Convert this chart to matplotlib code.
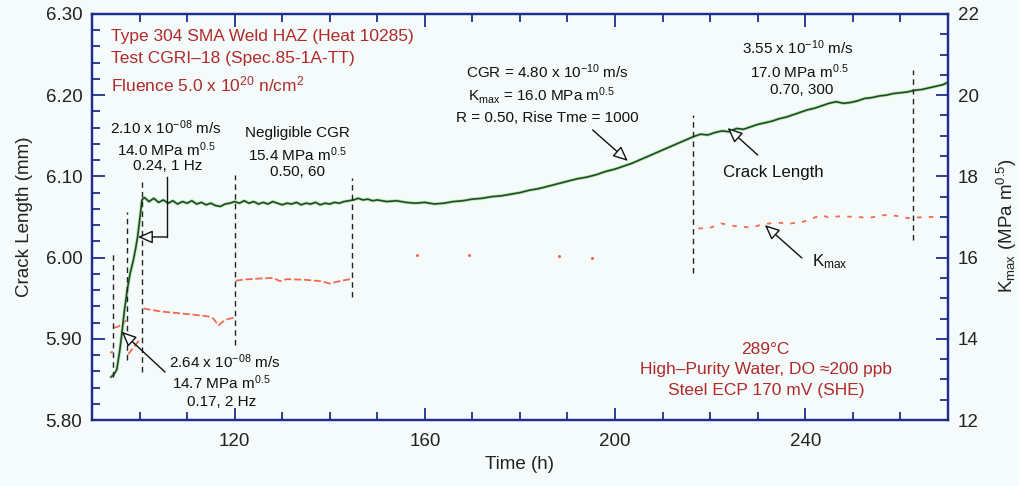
import numpy as np
import matplotlib
matplotlib.use("Agg")
import matplotlib.pyplot as plt

plt.rcParams['font.family'] = ['Liberation Sans', 'DejaVu Sans']
plt.rcParams['mathtext.fontset'] = 'custom'
plt.rcParams['mathtext.rm'] = 'Liberation Sans'
plt.rcParams['mathtext.it'] = 'Liberation Sans:italic'

# crack length (mm) vs time (h), in pieces
rise_time = [94.0, 94.6, 95.2, 95.8, 96.2, 96.8, 97.4, 98.0, 98.7, 99.2, 99.6, 100.1, 100.5]
rise_mm = [5.853, 5.856, 5.862, 5.884, 5.903, 5.934, 5.960, 5.980, 5.997, 6.012, 6.026, 6.050, 6.071]

flat_time = [101, 102, 103, 104, 105, 106, 107, 108, 109, 110,
             111, 112, 113, 114, 115, 116, 117, 118, 119, 120,
             121, 122, 123, 124, 125, 126, 127, 128, 129, 130,
             131, 132, 133, 134, 135, 136, 137, 138, 139, 140,
             141, 142, 143, 144, 145, 146, 147, 148, 149, 150]
flat_mm = [6.074, 6.069, 6.073, 6.068, 6.071, 6.067, 6.070, 6.066, 6.069, 6.067,
           6.070, 6.066, 6.068, 6.065, 6.067, 6.064, 6.063, 6.066, 6.067, 6.069,
           6.067, 6.070, 6.067, 6.069, 6.066, 6.068, 6.066, 6.069, 6.067, 6.065,
           6.067, 6.066, 6.068, 6.065, 6.067, 6.066, 6.068, 6.065, 6.067, 6.066,
           6.068, 6.067, 6.069, 6.070, 6.071, 6.073, 6.071, 6.072, 6.070, 6.071]

drift_time = [152, 154, 156, 158, 160, 162, 164, 166, 168, 170,
              172, 174, 176, 178, 180, 182, 184, 186, 188, 190,
              192, 194, 196, 198, 200, 202, 203.5]
drift_mm = [6.069, 6.070, 6.068, 6.067, 6.068, 6.066, 6.067, 6.069, 6.070, 6.072,
            6.073, 6.075, 6.076, 6.078, 6.080, 6.083, 6.085, 6.088, 6.091, 6.094,
            6.097, 6.099, 6.102, 6.106, 6.109, 6.113, 6.116]

late_time = [216.5, 218, 219.5, 221, 222.5, 224, 225.5, 227, 228.5, 230,
             231.5, 233, 234.5, 236, 237.5, 239, 240.5, 242, 243.5, 245,
             246.5, 248, 249.5, 251, 252.5, 254, 255.5, 257, 258.5, 260,
             261.5, 263, 264.5, 266, 267.5, 269, 270]
late_mm = [6.149, 6.152, 6.151, 6.154, 6.156, 6.155, 6.159, 6.158, 6.161, 6.164,
           6.166, 6.168, 6.171, 6.173, 6.176, 6.179, 6.182, 6.184, 6.187, 6.190,
           6.192, 6.190, 6.191, 6.193, 6.196, 6.197, 6.199, 6.200, 6.202, 6.203,
           6.204, 6.206, 6.207, 6.209, 6.211, 6.213, 6.216]

# Kmax (MPa m^0.5) - early segments, NaN separates loading steps
kmax_early_time = [93.8, 94.4, np.nan,
                   94.5, 95.5, 96.5, 97.2, np.nan,
                   97.6, 98.5, 99.5, 100.2, np.nan,
                   100.8, 102.0, 104.7, 108.2, 111.7, 114.5, 115.5, 116.6, 117.5, 118.4, 119.8, np.nan,
                   120.2, 122.0, 124.7, 128.1, 129.5, 131.0, 135.2, 138.0, 140.1, 142.0, 144.3]
kmax_early = [13.66, 13.68, np.nan,
              14.27, 14.30, 14.38, 14.45, np.nan,
              13.62, 13.75, 13.90, 14.00, np.nan,
              14.75, 14.72, 14.67, 14.63, 14.59, 14.55, 14.50, 14.33, 14.42, 14.48, 14.52, np.nan,
              15.43, 15.46, 15.48, 15.50, 15.42, 15.47, 15.45, 15.42, 15.36, 15.42, 15.47]
kmax_dots_time = [158.4, 169.3, 188.2, 195.2]
kmax_dots = [16.06, 16.06, 16.03, 15.98]
kmax_late_time = [217.5, 219.7, 222.3, 225.0, 228.5, 231.5, 234.2, 237.0, 239.8, 243.4,
                  244.8, 247.5, 250.8, 253.5, 256.8, 259.0, 261.7, 265.0, 268.0]
kmax_late = [16.72, 16.72, 16.84, 16.78, 16.74, 16.83, 16.86, 16.84, 16.89, 17.05,
             16.99, 17.02, 17.00, 16.98, 17.05, 17.03, 16.97, 17.00, 17.00]

# vertical dashed markers where the loading changed: time, bottom, top (mm)
change_time = [94.5, 97.4, 100.5, 120.1, 144.7, 216.4, 262.7]
change_lo = [5.853, 5.874, 5.859, 5.892, 5.952, 5.981, 6.022]
change_hi = [6.006, 6.056, 6.093, 6.102, 6.098, 6.176, 6.231]

crack_time = rise_time + flat_time + drift_time + late_time
crack_mm = rise_mm + flat_mm + drift_mm + late_mm

bg = '#f5fbfb'
spine_col = '#1f2d8c'
red_txt = '#b02a2a'

fig = plt.figure(figsize=(10.19, 4.86), dpi=100, facecolor=bg)
ax = fig.add_axes([0.0903, 0.1358, 0.8399, 0.8354])
ax2 = ax.twinx()
ax.set_zorder(ax2.get_zorder() + 1)
ax.patch.set_visible(False)
ax2.set_facecolor(bg)

ax2.plot(kmax_early_time, kmax_early, color='#f26a50', lw=1.3, ls=(0, (4, 1.5)))
ax2.plot(kmax_dots_time, kmax_dots, ls='none', marker='o', ms=2.2, color='#f26a50', mec='none')
ax2.plot(kmax_late_time, kmax_late, color='#f26a50', lw=1.3, ls=(0, (2.5, 4)))

ax.plot(crack_time, crack_mm, color='#8fd07a', lw=2.4, alpha=0.55, solid_capstyle='round')
ax.plot(crack_time, crack_mm, color='#1b4d22', lw=1.2)

ax.vlines(change_time, change_lo, change_hi, colors='#222222', lw=1.0, linestyles=(0, (4, 3)))

ax.set_xlim(90, 270)
ax.set_ylim(5.80, 6.30)
ax2.set_ylim(12, 22)
ax.set_xticks(np.arange(120, 271, 40))
ax.set_xticks(np.arange(90, 271, 10), minor=True)
ax.set_yticks(np.arange(5.80, 6.301, 0.10))
ax.set_yticks(np.arange(5.80, 6.301, 0.02), minor=True)
ax.yaxis.set_major_formatter(matplotlib.ticker.FormatStrFormatter('%.2f'))
ax2.set_yticks(np.arange(12, 23, 2))
ax2.set_yticks(np.arange(12, 22.01, 0.5), minor=True)

for a in (ax, ax2):
    for s in a.spines.values():
        s.set_color(spine_col)
        s.set_linewidth(1.6)
ax.tick_params(which='both', direction='in', color=spine_col, width=1.3, labelsize=13.5,
               labelcolor='#222222', top=True, right=False)
ax.tick_params(which='major', length=9)
ax.tick_params(which='minor', length=5.5)
ax.tick_params(axis='x', pad=9)
ax.tick_params(axis='y', pad=7)
ax2.tick_params(which='both', direction='in', color=spine_col, width=1.3, labelsize=13.5,
                labelcolor='#222222', pad=7)
ax2.tick_params(which='major', length=9)
ax2.tick_params(which='minor', length=5.5)

ax.set_xlabel('Time (h)', fontsize=13.5, color='#222222', labelpad=5)
ax.set_ylabel('Crack Length (mm)', fontsize=13.5, color='#222222', labelpad=9)
ax2.set_ylabel(r'K$_{\mathrm{max}}$ (MPa m$^{0.5}$)', fontsize=13.5, color='#222222')
ax2.yaxis.set_label_coords(1.055, 0.48)

# red title block
ax.text(94.0, 6.2717, 'Type 304 SMA Weld HAZ (Heat 10285)', color=red_txt, fontsize=12.5, va='center')
ax.text(94.0, 6.2458, 'Test CGRI–18 (Spec.85-1A-TT)', color=red_txt, fontsize=12.5, va='center')
ax.text(94.0, 6.2138, r'Fluence 5.0 x 10$^{20}$ n/cm$^{2}$', color=red_txt, fontsize=12.5, va='center')

ax.text(231.7, 5.8874, '289°C', color=red_txt, fontsize=12.5, ha='center', va='center')
ax.text(231.7, 5.8616, 'High–Purity Water, DO ≈200 ppb', color=red_txt, fontsize=12.5, ha='center', va='center')
ax.text(231.7, 5.8369, 'Steel ECP 170 mV (SHE)', color=red_txt, fontsize=12.5, ha='center', va='center')

blk = dict(color='#111111', fontsize=11, ha='center', va='center')
ax.text(105.5, 6.1596, r'2.10 x 10$^{-08}$ m/s', **blk)
ax.text(105.6, 6.1325, r'14.0 MPa m$^{0.5}$', **blk)
ax.text(105.9, 6.1128, '0.24, 1 Hz', **blk)

ax.text(133.1, 6.1535, 'Negligible CGR', **blk)
ax.text(133.1, 6.1264, r'15.4 MPa m$^{0.5}$', **blk)
ax.text(133.3, 6.1054, '0.50, 60', **blk)

ax.text(118.0, 5.8714, r'2.64 x 10$^{-08}$ m/s', **blk)
ax.text(117.3, 5.8456, r'14.7 MPa m$^{0.5}$', **blk)
ax.text(117.3, 5.8222, '0.17, 2 Hz', **blk)

ax.text(185.7, 6.2286, r'CGR = 4.80 x 10$^{-10}$ m/s', **blk)
ax.text(184.6, 6.2002, r'K$_{\mathrm{max}}$ = 16.0 MPa m$^{0.5}$', **blk)
ax.text(185.7, 6.1719, 'R = 0.50, Rise Tme = 1000', **blk)

ax.text(238.4, 6.2581, r'3.55 x 10$^{-10}$ m/s', **blk)
ax.text(238.8, 6.2286, r'17.0 MPa m$^{0.5}$', **blk)
ax.text(239.2, 6.2064, '0.70, 300', **blk)

ax.text(233.2, 6.1042, 'Crack Length', color='#111111', fontsize=12.2, ha='center', va='center')
ax.text(245.2, 5.9946, r'K$_{\mathrm{max}}$', color='#111111', fontsize=12.2, ha='center', va='center')

arrow = dict(arrowstyle='-|>,head_length=0.9,head_width=0.4', fc=bg, ec='#111111',
             lw=1.0, shrinkA=0, shrinkB=0)
ax.annotate('', xy=(223.7, 6.1596), xytext=(230.0, 6.1264), arrowprops=arrow)
ax.annotate('', xy=(231.5, 6.0401), xytext=(239.3, 5.9995), arrowprops=arrow)
ax.annotate('', xy=(202.7, 6.1190), xytext=(195.3, 6.1571), arrowprops=arrow)
ax.annotate('', xy=(96.24, 5.9087), xytext=(105.35, 5.8591), arrowprops=arrow)
ax.plot([105.8, 105.8], [6.0993, 6.0254], color='#111111', lw=1.0)
ax.annotate('', xy=(99.67, 6.0254), xytext=(105.8, 6.0254), arrowprops=arrow)

fig.savefig('out.png', dpi=100, facecolor=bg)
